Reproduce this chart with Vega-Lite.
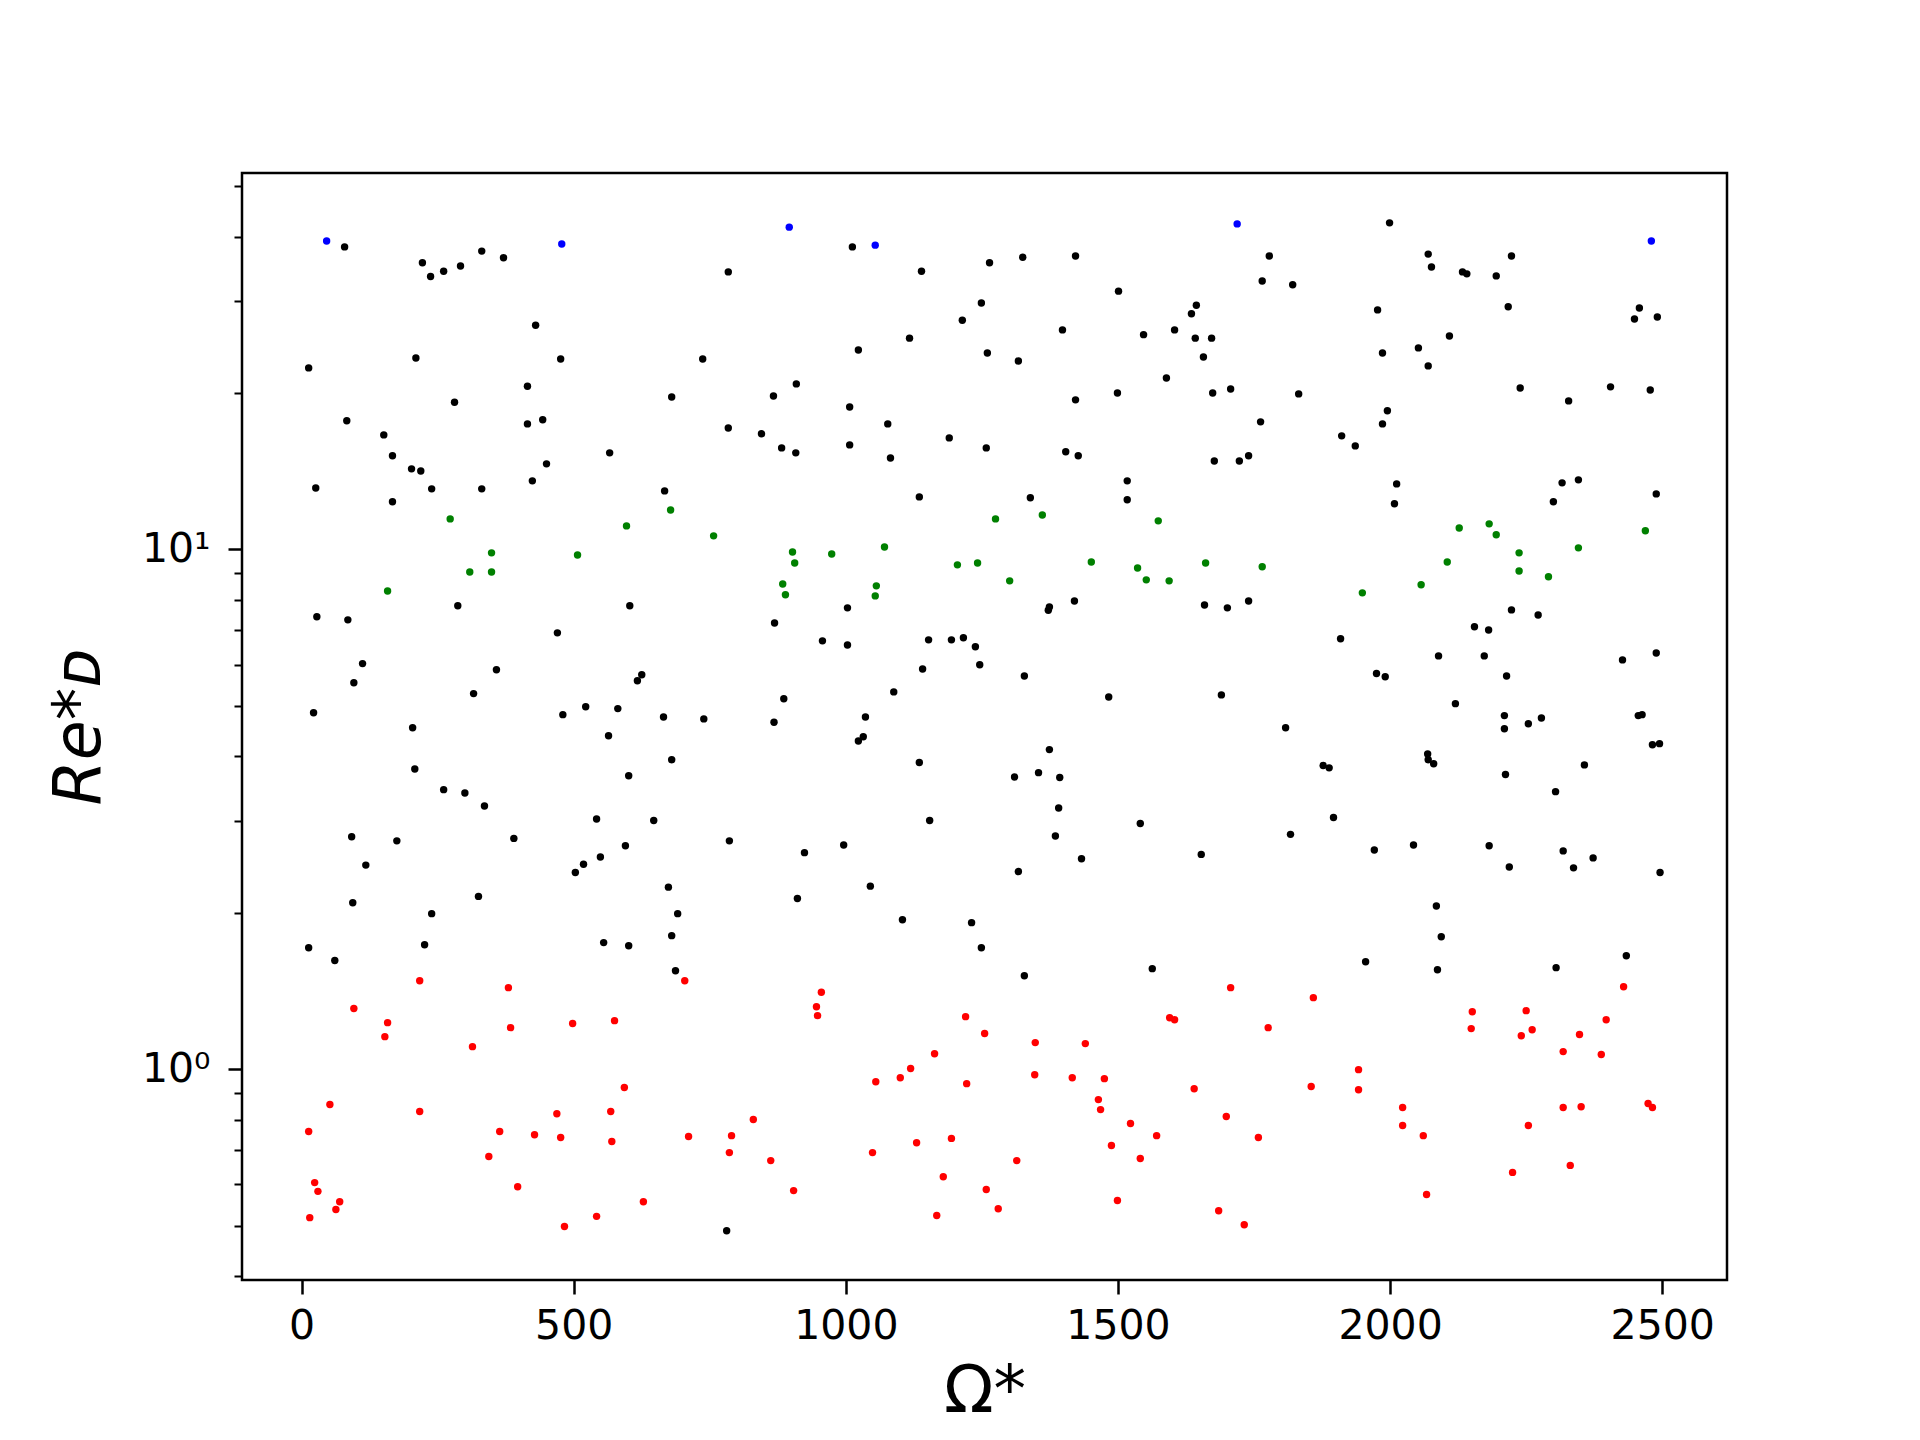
{
"$schema": "https://vega.github.io/schema/vega-lite/v6.json",
"width": 1485, "height": 1107,
"autosize": {"type": "none"},
"padding": {"left": 242, "top": 173, "right": 193, "bottom": 160},
"background": "white",
"config": {"view": {"stroke": "black", "strokeWidth": 2.5}, "font": "DejaVu Sans"},
"data": {"values": [
{"x":79,"y":38.2,"c":"k"},{"x":222,"y":35.6,"c":"k"},{"x":237,"y":33.5,"c":"k"},{"x":261,"y":34.3,"c":"k"},{"x":292,"y":35.1,"c":"k"},{"x":331,"y":37.5,"c":"k"},{"x":371,"y":36.4,"c":"k"},{"x":784,"y":34.2,"c":"k"},{"x":430,"y":27.0,"c":"k"},{"x":13,"y":22.35,"c":"k"},{"x":210,"y":23.35,"c":"k"},{"x":476,"y":23.25,"c":"k"},{"x":737,"y":23.25,"c":"k"},{"x":415,"y":20.6,"c":"k"},{"x":281,"y":19.2,"c":"k"},{"x":680,"y":19.65,"c":"k"},{"x":83,"y":17.68,"c":"k"},{"x":415,"y":17.44,"c":"k"},{"x":443,"y":17.76,"c":"k"},{"x":784,"y":17.13,"c":"k"},{"x":151,"y":16.61,"c":"k"},{"x":167,"y":15.14,"c":"k"},{"x":566,"y":15.34,"c":"k"},{"x":202,"y":14.29,"c":"k"},{"x":219,"y":14.16,"c":"k"},{"x":450,"y":14.61,"c":"k"},{"x":26,"y":13.13,"c":"k"},{"x":239,"y":13.08,"c":"k"},{"x":331,"y":13.08,"c":"k"},{"x":424,"y":13.55,"c":"k"},{"x":667,"y":12.96,"c":"k"},{"x":167,"y":12.35,"c":"k"},
{"x":1012,"y":38.2,"c":"k"},{"x":1139,"y":34.3,"c":"k"},{"x":1264,"y":35.6,"c":"k"},{"x":1325,"y":36.5,"c":"k"},{"x":1422,"y":36.7,"c":"k"},{"x":1501,"y":31.4,"c":"k"},{"x":1249,"y":29.8,"c":"k"},{"x":1214,"y":27.6,"c":"k"},{"x":1644,"y":29.5,"c":"k"},{"x":1635,"y":28.4,"c":"k"},{"x":1398,"y":26.45,"c":"k"},{"x":1547,"y":25.9,"c":"k"},{"x":1604,"y":26.45,"c":"k"},{"x":1642,"y":25.5,"c":"k"},{"x":1672,"y":25.5,"c":"k"},{"x":1657,"y":23.46,"c":"k"},{"x":1117,"y":25.5,"c":"k"},{"x":1023,"y":24.2,"c":"k"},{"x":1260,"y":23.88,"c":"k"},{"x":1317,"y":23.05,"c":"k"},{"x":1589,"y":21.38,"c":"k"},{"x":909,"y":20.82,"c":"k"},{"x":867,"y":19.74,"c":"k"},{"x":1007,"y":18.8,"c":"k"},{"x":1422,"y":19.4,"c":"k"},{"x":1499,"y":20.0,"c":"k"},{"x":1674,"y":20.0,"c":"k"},{"x":845,"y":16.69,"c":"k"},{"x":882,"y":15.68,"c":"k"},{"x":908,"y":15.34,"c":"k"},{"x":1007,"y":15.89,"c":"k"},{"x":1077,"y":17.44,"c":"k"},{"x":1082,"y":15.0,"c":"k"},{"x":1190,"y":16.39,"c":"k"},{"x":1258,"y":15.68,"c":"k"},{"x":1404,"y":15.41,"c":"k"},{"x":1427,"y":15.14,"c":"k"},{"x":1677,"y":14.8,"c":"k"},{"x":1517,"y":13.55,"c":"k"},{"x":1517,"y":12.46,"c":"k"},{"x":1135,"y":12.62,"c":"k"},{"x":1339,"y":12.57,"c":"k"},
{"x":1999,"y":42.5,"c":"k"},{"x":1778,"y":36.7,"c":"k"},{"x":1765,"y":32.85,"c":"k"},{"x":1821,"y":32.3,"c":"k"},{"x":2070,"y":37.0,"c":"k"},{"x":2076,"y":34.95,"c":"k"},{"x":2133,"y":34.2,"c":"k"},{"x":2141,"y":33.9,"c":"k"},{"x":2195,"y":33.6,"c":"k"},{"x":2223,"y":36.7,"c":"k"},{"x":1977,"y":28.9,"c":"k"},{"x":2217,"y":29.3,"c":"k"},{"x":2458,"y":29.15,"c":"k"},{"x":2449,"y":27.76,"c":"k"},{"x":2491,"y":28.0,"c":"k"},{"x":2109,"y":25.75,"c":"k"},{"x":2052,"y":24.42,"c":"k"},{"x":1986,"y":23.88,"c":"k"},{"x":2070,"y":22.55,"c":"k"},{"x":1707,"y":20.36,"c":"k"},{"x":1832,"y":19.92,"c":"k"},{"x":2239,"y":20.45,"c":"k"},{"x":2328,"y":19.31,"c":"k"},{"x":2405,"y":20.55,"c":"k"},{"x":2478,"y":20.27,"c":"k"},{"x":1995,"y":18.48,"c":"k"},{"x":1986,"y":17.44,"c":"k"},{"x":1762,"y":17.6,"c":"k"},{"x":1911,"y":16.54,"c":"k"},{"x":1936,"y":15.82,"c":"k"},{"x":1723,"y":14.8,"c":"k"},{"x":1740,"y":15.14,"c":"k"},{"x":2012,"y":13.37,"c":"k"},{"x":2008,"y":12.24,"c":"k"},{"x":2316,"y":13.43,"c":"k"},{"x":2346,"y":13.61,"c":"k"},{"x":2300,"y":12.35,"c":"k"},{"x":2489,"y":12.79,"c":"k"},
{"x":287,"y":7.79,"c":"k"},{"x":603,"y":7.79,"c":"k"},{"x":28,"y":7.42,"c":"k"},{"x":85,"y":7.32,"c":"k"},{"x":470,"y":6.91,"c":"k"},{"x":112,"y":6.03,"c":"k"},{"x":96,"y":5.54,"c":"k"},{"x":358,"y":5.87,"c":"k"},{"x":316,"y":5.28,"c":"k"},{"x":625,"y":5.74,"c":"k"},{"x":617,"y":5.59,"c":"k"},{"x":22,"y":4.85,"c":"k"},{"x":204,"y":4.54,"c":"k"},{"x":480,"y":4.81,"c":"k"},{"x":522,"y":4.98,"c":"k"},{"x":581,"y":4.94,"c":"k"},{"x":665,"y":4.76,"c":"k"},{"x":739,"y":4.72,"c":"k"},{"x":564,"y":4.38,"c":"k"},{"x":680,"y":3.94,"c":"k"},{"x":601,"y":3.67,"c":"k"},{"x":208,"y":3.78,"c":"k"},{"x":261,"y":3.45,"c":"k"},{"x":300,"y":3.40,"c":"k"},{"x":336,"y":3.21,"c":"k"},{"x":542,"y":3.03,"c":"k"},{"x":647,"y":3.01,"c":"k"},{"x":92,"y":2.80,"c":"k"},{"x":175,"y":2.75,"c":"k"},{"x":390,"y":2.78,"c":"k"},{"x":786,"y":2.75,"c":"k"},{"x":595,"y":2.69,"c":"k"},{"x":549,"y":2.56,"c":"k"},{"x":518,"y":2.48,"c":"k"},{"x":503,"y":2.39,"c":"k"},{"x":118,"y":2.47,"c":"k"},{"x":674,"y":2.24,"c":"k"},{"x":94,"y":2.09,"c":"k"},{"x":325,"y":2.15,"c":"k"},
{"x":1003,"y":7.72,"c":"k"},{"x":869,"y":7.22,"c":"k"},{"x":957,"y":6.67,"c":"k"},{"x":1003,"y":6.55,"c":"k"},{"x":1152,"y":6.70,"c":"k"},{"x":1194,"y":6.70,"c":"k"},{"x":1216,"y":6.76,"c":"k"},{"x":1238,"y":6.50,"c":"k"},{"x":1141,"y":5.89,"c":"k"},{"x":1246,"y":6.00,"c":"k"},{"x":1328,"y":5.71,"c":"k"},{"x":1374,"y":7.75,"c":"k"},{"x":1372,"y":7.64,"c":"k"},{"x":1420,"y":7.96,"c":"k"},{"x":1659,"y":7.82,"c":"k"},{"x":886,"y":5.16,"c":"k"},{"x":868,"y":4.65,"c":"k"},{"x":1036,"y":4.76,"c":"k"},{"x":1032,"y":4.36,"c":"k"},{"x":1023,"y":4.28,"c":"k"},{"x":1088,"y":5.32,"c":"k"},{"x":1135,"y":3.89,"c":"k"},{"x":1374,"y":4.12,"c":"k"},{"x":1310,"y":3.65,"c":"k"},{"x":1354,"y":3.72,"c":"k"},{"x":1393,"y":3.64,"c":"k"},{"x":1391,"y":3.18,"c":"k"},{"x":1385,"y":2.81,"c":"k"},{"x":1483,"y":5.20,"c":"k"},{"x":1690,"y":5.25,"c":"k"},{"x":1154,"y":3.01,"c":"k"},{"x":1541,"y":2.97,"c":"k"},{"x":924,"y":2.61,"c":"k"},{"x":996,"y":2.70,"c":"k"},{"x":1433,"y":2.54,"c":"k"},{"x":1653,"y":2.59,"c":"k"},{"x":1317,"y":2.40,"c":"k"},{"x":1045,"y":2.25,"c":"k"},{"x":911,"y":2.13,"c":"k"},
{"x":1701,"y":7.72,"c":"k"},{"x":1740,"y":7.96,"c":"k"},{"x":1909,"y":6.73,"c":"k"},{"x":2223,"y":7.65,"c":"k"},{"x":2272,"y":7.48,"c":"k"},{"x":2155,"y":7.10,"c":"k"},{"x":2181,"y":7.00,"c":"k"},{"x":2089,"y":6.24,"c":"k"},{"x":2173,"y":6.24,"c":"k"},{"x":2214,"y":5.71,"c":"k"},{"x":1975,"y":5.77,"c":"k"},{"x":1991,"y":5.69,"c":"k"},{"x":2427,"y":6.13,"c":"k"},{"x":2489,"y":6.32,"c":"k"},{"x":2120,"y":5.05,"c":"k"},{"x":1808,"y":4.54,"c":"k"},{"x":2210,"y":4.79,"c":"k"},{"x":2210,"y":4.52,"c":"k"},{"x":2254,"y":4.62,"c":"k"},{"x":2278,"y":4.74,"c":"k"},{"x":2456,"y":4.79,"c":"k"},{"x":2463,"y":4.81,"c":"k"},{"x":2482,"y":4.21,"c":"k"},{"x":2495,"y":4.23,"c":"k"},{"x":1877,"y":3.84,"c":"k"},{"x":1888,"y":3.80,"c":"k"},{"x":2069,"y":4.04,"c":"k"},{"x":2070,"y":3.94,"c":"k"},{"x":2080,"y":3.87,"c":"k"},{"x":2212,"y":3.69,"c":"k"},{"x":2357,"y":3.85,"c":"k"},{"x":2304,"y":3.42,"c":"k"},{"x":1896,"y":3.05,"c":"k"},{"x":1817,"y":2.83,"c":"k"},{"x":1971,"y":2.64,"c":"k"},{"x":2043,"y":2.70,"c":"k"},{"x":2182,"y":2.69,"c":"k"},{"x":2219,"y":2.45,"c":"k"},{"x":2318,"y":2.63,"c":"k"},{"x":2337,"y":2.44,"c":"k"},{"x":2373,"y":2.55,"c":"k"},{"x":2496,"y":2.39,"c":"k"},{"x":2085,"y":2.06,"c":"k"},
{"x":239,"y":1.992,"c":"k"},{"x":691,"y":1.992,"c":"k"},{"x":13,"y":1.713,"c":"k"},{"x":61,"y":1.618,"c":"k"},{"x":226,"y":1.736,"c":"k"},{"x":555,"y":1.752,"c":"k"},{"x":601,"y":1.728,"c":"k"},{"x":680,"y":1.807,"c":"k"},{"x":687,"y":1.547,"c":"k"},{"x":781,"y":0.489,"c":"k"},
{"x":1104,"y":1.939,"c":"k"},{"x":1231,"y":1.914,"c":"k"},{"x":1249,"y":1.713,"c":"k"},{"x":1328,"y":1.513,"c":"k"},{"x":1563,"y":1.561,"c":"k"},
{"x":2094,"y":1.798,"c":"k"},{"x":1955,"y":1.610,"c":"k"},{"x":2087,"y":1.554,"c":"k"},{"x":2305,"y":1.568,"c":"k"},{"x":2434,"y":1.653,"c":"k"},
{"x":217,"y":1.480,"c":"r"},{"x":380,"y":1.435,"c":"r"},{"x":704,"y":1.480,"c":"r"},{"x":96,"y":1.308,"c":"r"},{"x":158,"y":1.229,"c":"r"},{"x":153,"y":1.155,"c":"r"},{"x":384,"y":1.202,"c":"r"},{"x":314,"y":1.105,"c":"r"},{"x":498,"y":1.224,"c":"r"},{"x":575,"y":1.240,"c":"r"},{"x":593,"y":0.922,"c":"r"},{"x":52,"y":0.855,"c":"r"},{"x":217,"y":0.829,"c":"r"},{"x":469,"y":0.821,"c":"r"},{"x":568,"y":0.829,"c":"r"},{"x":13,"y":0.759,"c":"r"},{"x":364,"y":0.759,"c":"r"},{"x":428,"y":0.748,"c":"r"},{"x":476,"y":0.739,"c":"r"},{"x":570,"y":0.726,"c":"r"},{"x":711,"y":0.742,"c":"r"},{"x":790,"y":0.745,"c":"r"},{"x":786,"y":0.691,"c":"r"},{"x":344,"y":0.679,"c":"r"},{"x":24,"y":0.605,"c":"r"},{"x":30,"y":0.582,"c":"r"},{"x":70,"y":0.556,"c":"r"},{"x":63,"y":0.537,"c":"r"},{"x":15,"y":0.518,"c":"r"},{"x":397,"y":0.594,"c":"r"},{"x":628,"y":0.556,"c":"r"},{"x":542,"y":0.521,"c":"r"},{"x":483,"y":0.498,"c":"r"},
{"x":955,"y":1.406,"c":"r"},{"x":946,"y":1.319,"c":"r"},{"x":948,"y":1.268,"c":"r"},{"x":1220,"y":1.262,"c":"r"},{"x":1255,"y":1.171,"c":"r"},{"x":1348,"y":1.125,"c":"r"},{"x":1440,"y":1.120,"c":"r"},{"x":1163,"y":1.071,"c":"r"},{"x":1595,"y":1.256,"c":"r"},{"x":1604,"y":1.245,"c":"r"},{"x":1055,"y":0.946,"c":"r"},{"x":1100,"y":0.963,"c":"r"},{"x":1119,"y":1.003,"c":"r"},{"x":1222,"y":0.938,"c":"r"},{"x":1347,"y":0.976,"c":"r"},{"x":1416,"y":0.963,"c":"r"},{"x":1475,"y":0.959,"c":"r"},{"x":1464,"y":0.874,"c":"r"},{"x":1468,"y":0.836,"c":"r"},{"x":1640,"y":0.917,"c":"r"},{"x":830,"y":0.800,"c":"r"},{"x":862,"y":0.667,"c":"r"},{"x":904,"y":0.584,"c":"r"},{"x":1049,"y":0.691,"c":"r"},{"x":1130,"y":0.722,"c":"r"},{"x":1194,"y":0.736,"c":"r"},{"x":1179,"y":0.621,"c":"r"},{"x":1258,"y":0.587,"c":"r"},{"x":1280,"y":0.539,"c":"r"},{"x":1167,"y":0.523,"c":"r"},{"x":1314,"y":0.667,"c":"r"},{"x":1523,"y":0.786,"c":"r"},{"x":1571,"y":0.745,"c":"r"},{"x":1488,"y":0.713,"c":"r"},{"x":1541,"y":0.673,"c":"r"},{"x":1499,"y":0.559,"c":"r"},{"x":1685,"y":0.534,"c":"r"},
{"x":1707,"y":1.435,"c":"r"},{"x":1859,"y":1.373,"c":"r"},{"x":1776,"y":1.202,"c":"r"},{"x":2151,"y":1.290,"c":"r"},{"x":2149,"y":1.197,"c":"r"},{"x":2250,"y":1.296,"c":"r"},{"x":2241,"y":1.160,"c":"r"},{"x":2261,"y":1.191,"c":"r"},{"x":2348,"y":1.166,"c":"r"},{"x":2397,"y":1.245,"c":"r"},{"x":2318,"y":1.081,"c":"r"},{"x":2388,"y":1.067,"c":"r"},{"x":2429,"y":1.441,"c":"r"},{"x":1942,"y":0.998,"c":"r"},{"x":1942,"y":0.913,"c":"r"},{"x":1855,"y":0.926,"c":"r"},{"x":1699,"y":0.811,"c":"r"},{"x":1758,"y":0.739,"c":"r"},{"x":2023,"y":0.844,"c":"r"},{"x":2023,"y":0.779,"c":"r"},{"x":2061,"y":0.745,"c":"r"},{"x":2318,"y":0.844,"c":"r"},{"x":2351,"y":0.847,"c":"r"},{"x":2474,"y":0.859,"c":"r"},{"x":2482,"y":0.844,"c":"r"},{"x":2254,"y":0.779,"c":"r"},{"x":2331,"y":0.653,"c":"r"},{"x":2225,"y":0.633,"c":"r"},{"x":2067,"y":0.574,"c":"r"},{"x":1732,"y":0.502,"c":"r"},
{"x":273,"y":11.45,"c":"g"},{"x":597,"y":11.10,"c":"g"},{"x":678,"y":11.91,"c":"g"},{"x":757,"y":10.62,"c":"g"},{"x":349,"y":9.85,"c":"g"},{"x":507,"y":9.76,"c":"g"},{"x":309,"y":9.05,"c":"g"},{"x":349,"y":9.05,"c":"g"},{"x":158,"y":8.32,"c":"g"},{"x":1275,"y":11.45,"c":"g"},{"x":1361,"y":11.65,"c":"g"},{"x":1574,"y":11.35,"c":"g"},{"x":902,"y":9.89,"c":"g"},{"x":974,"y":9.80,"c":"g"},{"x":1071,"y":10.11,"c":"g"},{"x":906,"y":9.42,"c":"g"},{"x":884,"y":8.58,"c":"g"},{"x":889,"y":8.18,"c":"g"},{"x":1056,"y":8.51,"c":"g"},{"x":1054,"y":8.14,"c":"g"},{"x":1205,"y":9.34,"c":"g"},{"x":1242,"y":9.42,"c":"g"},{"x":1301,"y":8.70,"c":"g"},{"x":1451,"y":9.46,"c":"g"},{"x":1536,"y":9.21,"c":"g"},{"x":1552,"y":8.74,"c":"g"},{"x":1594,"y":8.70,"c":"g"},{"x":1661,"y":9.42,"c":"g"},{"x":2127,"y":11.0,"c":"g"},{"x":2182,"y":11.2,"c":"g"},{"x":2195,"y":10.67,"c":"g"},{"x":2469,"y":10.86,"c":"g"},{"x":1765,"y":9.26,"c":"g"},{"x":1949,"y":8.25,"c":"g"},{"x":2057,"y":8.55,"c":"g"},{"x":2105,"y":9.46,"c":"g"},{"x":2237,"y":9.85,"c":"g"},{"x":2237,"y":9.09,"c":"g"},{"x":2291,"y":8.86,"c":"g"},{"x":2346,"y":10.07,"c":"g"},
{"x":46,"y":39.2,"c":"b"},{"x":478,"y":38.7,"c":"b"},{"x":896,"y":41.7,"c":"b"},{"x":1054,"y":38.5,"c":"b"},{"x":1719,"y":42.3,"c":"b"},{"x":2480,"y":39.2,"c":"b"}
]},
"mark": {"type": "circle", "size": 55, "opacity": 1},
"encoding": {
"x": {"field": "x", "type": "quantitative",
 "scale": {"domain": [-109.5, 2619], "nice": false, "zero": false},
 "axis": {"values": [0,500,1000,1500,2000,2500], "format": "d", "title": "Ω*", "grid": false, "domain": false,
  "tickSize": 14, "tickWidth": 2.5, "tickColor": "black",
  "labelFont": "DejaVu Sans", "labelFontSize": 41, "labelColor": "black", "labelPadding": 12,
  "titleFont": "DejaVu Sans", "titleFontSize": 65, "titleFontWeight": "normal", "titleColor": "black", "titlePadding": 14}},
"y": {"field": "y", "type": "quantitative",
 "scale": {"type": "log", "domain": [0.393, 53.0], "nice": false, "zero": false},
 "axis": {"values": [0.4,0.5,0.6,0.7,0.8,0.9,1,2,3,4,5,6,7,8,9,10,20,30,40,50],
  "labelExpr": "datum.value == 1 ? '10⁰' : (datum.value == 10 ? '10¹' : '')",
  "grid": false, "domain": false, "tickColor": "black",
  "tickSize": {"condition": {"test": "datum.value == 1 || datum.value == 10", "value": 14}, "value": 8},
  "tickWidth": {"condition": {"test": "datum.value == 1 || datum.value == 10", "value": 2.5}, "value": 2},
  "labelFont": "DejaVu Sans", "labelFontSize": 41, "labelColor": "black", "labelPadding": 18,
  "title": "Re*ᴅ", "titleFont": "DejaVu Sans", "titleFontSize": 65, "titleFontStyle": "italic", "titleFontWeight": "normal", "titleColor": "black", "titlePadding": 28}},
"color": {"field": "c", "type": "nominal",
 "scale": {"domain": ["k","r","g","b"], "range": ["#000000","#ff0000","#008000","#0000ff"]}, "legend": null}
}
}
